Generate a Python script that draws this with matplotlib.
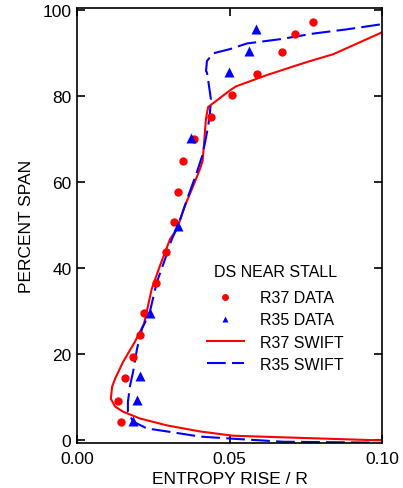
import numpy as np
import matplotlib.pyplot as plt
from matplotlib.lines import Line2D

plt.rcParams['font.family'] = ['Liberation Sans', 'DejaVu Sans']

# measured data points (entropy rise / R, percent span)
r37_x = [0.0143, 0.0136, 0.0157, 0.0184, 0.0207, 0.0220, 0.0259, 0.0292, 0.0318,
         0.0332, 0.0347, 0.0383, 0.0438, 0.0508, 0.0590, 0.0671, 0.0714, 0.0774]
r37_y = [4.2, 9.1, 14.4, 19.3, 24.4, 29.5, 36.5, 43.7, 50.7,
         57.8, 64.9, 70.0, 75.1, 80.2, 85.1, 90.2, 94.4, 97.2]

r35_x = [0.0184, 0.0197, 0.0207, 0.0239, 0.0331, 0.0374, 0.0498, 0.0564, 0.0587]
r35_y = [4.4, 9.3, 14.7, 29.5, 49.8, 70.3, 85.6, 90.5, 95.6]

# SWIFT predictions
swift37_x = [0.1000, 0.0731, 0.0511, 0.0403, 0.0295, 0.0207, 0.0151, 0.0125, 0.0111,
             0.0115, 0.0125, 0.0151, 0.0190, 0.0220, 0.0245, 0.0272, 0.0305, 0.0328,
             0.0354, 0.0381, 0.0403, 0.0412, 0.0416, 0.0423, 0.0430, 0.0502, 0.0521,
             0.0621, 0.0698, 0.0764, 0.0840, 0.1000]
swift37_y = [-0.2, 0.4, 0.9, 1.9, 3.3, 4.9, 6.5, 7.7, 9.5,
             12.3, 14.2, 18.1, 22.8, 27.0, 35.1, 40.5, 46.7, 49.1,
             54.5, 59.1, 63.0, 65.0, 68.4, 74.9, 77.5, 81.4, 82.3,
             84.9, 86.7, 88.2, 89.8, 94.9]

swift35_x = [0.0960, 0.0675, 0.0511, 0.0403, 0.0295, 0.0229, 0.0184, 0.0167, 0.0167,
             0.0174, 0.0184, 0.0197, 0.0213, 0.0239, 0.0262, 0.0289, 0.0311, 0.0331,
             0.0361, 0.0393, 0.0410, 0.0420, 0.0430, 0.0436, 0.0439, 0.0433, 0.0426,
             0.0423, 0.0426, 0.0446, 0.0502, 0.0557, 0.0666, 0.0774, 0.0885, 0.1000]
swift35_y = [-0.7, -0.5, 0.2, 0.7, 1.9, 2.6, 4.2, 6.5, 8.8,
             12.6, 15.8, 21.2, 25.8, 29.8, 36.7, 42.1, 46.7, 49.8,
             56.0, 62.3, 66.0, 69.3, 73.0, 76.2, 79.3, 82.3, 85.6,
             85.8, 88.2, 90.0, 91.0, 92.3, 93.3, 94.6, 95.6, 96.8]

fig = plt.figure(figsize=(4.03, 4.89), dpi=100)
ax = fig.add_axes([0.191, 0.092, 0.757, 0.889])

ax.plot(swift37_x, swift37_y, color='red', lw=1.5)
ax.plot(swift35_x, swift35_y, color='blue', lw=1.5, dashes=(9, 3))
ax.plot(r37_x, r37_y, 'o', color='red', ms=6, mec='none')
ax.plot(r35_x, r35_y, '^', color='blue', ms=6.5, mec='none')

ax.set_xlim(0, 0.1)
ax.set_ylim(-0.8, 100.5)
ax.set_xticks([0, 0.05, 0.1])
ax.set_xticklabels(['0.00', '0.05', '0.10'])
ax.set_yticks([0, 20, 40, 60, 80, 100])
ax.tick_params(direction='in', top=True, right=True, length=6, width=1.2,
               labelsize=12.5, pad=6)
ax.tick_params(axis='y', pad=4)
for s in ax.spines.values():
    s.set_linewidth(1.2)
ax.set_xlabel('ENTROPY RISE / R', fontsize=12.5, labelpad=3)
ax.set_ylabel('PERCENT SPAN', fontsize=12.5, labelpad=6)

handles = [Line2D([], [], ls='none', marker='o', color='red', ms=5, mec='none'),
           Line2D([], [], ls='none', marker='^', color='blue', ms=5, mec='none'),
           Line2D([], [], color='red', lw=1.5),
           Line2D([], [], color='blue', lw=1.5, dashes=(9, 3))]
leg = ax.legend(handles, ['R37 DATA', 'R35 DATA', 'R37 SWIFT', 'R35 SWIFT'],
                title='DS NEAR STALL', frameon=False, fontsize=11.5,
                title_fontsize=11.5, loc='upper left',
                bbox_to_anchor=(0.40, 0.43), handlelength=2.3,
                handletextpad=1.0, labelspacing=0.45, borderpad=0)
leg._legend_box.sep = 8

fig.savefig('out.png', dpi=100)
